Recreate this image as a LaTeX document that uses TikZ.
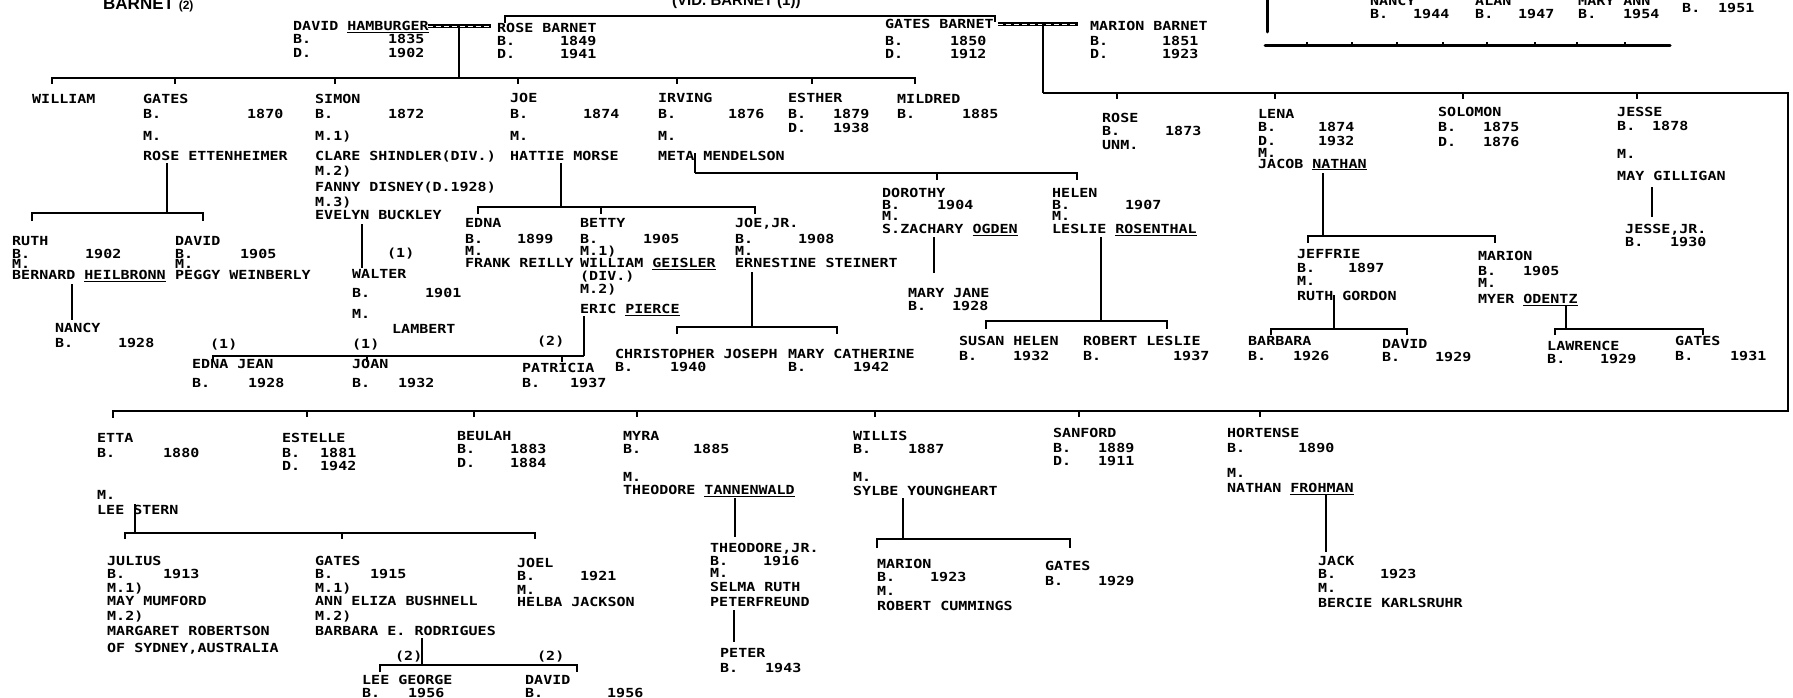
\documentclass[tikz,border=0pt]{standalone}
\usepackage{fontspec}
\usepackage{tikz}
\newfontfamily\chartfont{DejaVu Sans Mono}[FakeStretch=1.2]
\newfontfamily\titlefont{Liberation Sans}
\newcommand{\yrline}[3]{\makebox[#1pt][l]{#2}#3}

\begin{document}
\begin{tikzpicture}[x=1pt, y=-1pt,
      pers/.style={anchor=north west, inner sep=0pt, align=left, yshift=9.1pt,
                   font=\chartfont\bfseries\fontsize{12.5}{13.5}\selectfont},
      lbl/.style={pers},
      titletext/.style={anchor=base west, inner sep=0pt,
                   font=\titlefont\bfseries\fontsize{17}{20}\selectfont},
      wed/.style={line width=3.2pt},
      wedgap/.style={white, line width=0.8pt, dash pattern=on 5pt off 3pt},
      kin/.style={line width=1.6pt},
      drop/.style={line width=2pt}
    ]
    \useasboundingbox (0,0) rectangle (1793,698);
    \fill[white] (0,0) rectangle (1793,698);

    % Headings
    \node[titletext] (barnet2) at (103,10) {BARNET {\fontsize{12}{14}\selectfont(2)}};
    \node[titletext, font=\titlefont\bfseries\fontsize{15}{18}\selectfont] (vidbarnet) at (672,6)
          {(VID. BARNET (1))};

    % First generation
    \node[pers] (hamburger) at (293,30)
          {DAVID \underline{HAMBURGER}\\\yrline{95}{B.}{1835}\\\yrline{95}{D.}{1902}};
    \node[pers] (roseb) at (497,32)
          {ROSE BARNET\\\yrline{63}{B.}{1849}\\[-0.5pt]\yrline{63}{D.}{1941}};
    \node[pers] (gatesb) at (885,28)
          {GATES BARNET\\[3.5pt]\yrline{65}{B.}{1850}\\\yrline{65}{D.}{1912}};
    \node[pers] (marionb) at (1090,30)
          {MARION BARNET\\[1.5pt]\yrline{72}{B.}{1851}\\\yrline{72}{D.}{1923}};

    % Hamburger children
    \node[pers] (william) at (32,103) {WILLIAM};
    \node[pers] (gates) at (143,103)
          {GATES\\[1.5pt]\yrline{104}{B.}{1870}\\[8.5pt]M.\\[6.5pt]ROSE ETTENHEIMER};
    \node[pers] (simon) at (315,103)
          {SIMON\\[1.5pt]\yrline{73}{B.}{1872}\\[8.5pt]M.1)\\[6.5pt]CLARE SHINDLER(DIV.)\\[1.5pt]M.2)\\[2.5pt]FANNY DISNEY(D.1928)\\[1.5pt]M.3)\\EVELYN BUCKLEY};
    \node[pers] (joe) at (510,102)
          {JOE\\[2.5pt]\yrline{73}{B.}{1874}\\[8.5pt]M.\\[6.5pt]HATTIE MORSE};
    \node[pers] (irving) at (658,102)
          {IRVING\\[2.5pt]\yrline{70}{B.}{1876}\\[8.5pt]M.\\[6.5pt]META MENDELSON};
    \node[pers] (esther) at (788,102)
          {ESTHER\\[2.5pt]\yrline{45}{B.}{1879}\\[0.5pt]\yrline{45}{D.}{1938}};
    \node[pers] (mildred) at (897,103) {MILDRED\\[1.5pt]\yrline{65}{B.}{1885}};

    % Barnet children
    \node[pers] (rose) at (1102,122) {ROSE\\\yrline{63}{B.}{1873}\\UNM.};
    \node[pers] (lena) at (1258,118)
          {LENA\\\yrline{60}{B.}{1874}\\\yrline{60}{D.}{1932}\\[-1.5pt]M.\\[-2.5pt]JACOB \underline{NATHAN}};
    \node[pers] (solomon) at (1438,116)
          {SOLOMON\\[1.5pt]\yrline{45}{B.}{1875}\\[1.5pt]\yrline{45}{D.}{1876}};
    \node[pers] (jesse) at (1617,116)
          {JESSE\\[0.5pt]\yrline{35}{B.}{1878}\\[14.5pt]M.\\[8.5pt]MAY GILLIGAN};
    \node[pers] (jessejr) at (1625,233) {JESSE,JR.\\\yrline{45}{B.}{1930}};
    \node[pers] (etta) at (97,442)
          {ETTA\\[1.5pt]\yrline{66}{B.}{1880}\\[28.5pt]M.\\[1.5pt]LEE STERN};
    \node[pers] (estelle) at (282,442)
          {ESTELLE\\[1.5pt]\yrline{38}{B.}{1881}\\\yrline{38}{D.}{1942}};
    \node[pers] (beulah) at (457,440)
          {BEULAH\\\yrline{53}{B.}{1883}\\\yrline{53}{D.}{1884}};
    \node[pers] (myra) at (623,440)
          {MYRA\\\yrline{70}{B.}{1885}\\[14.5pt]M.\\[-0.5pt]THEODORE \underline{TANNENWALD}};
    \node[pers] (willis) at (853,440)
          {WILLIS\\\yrline{55}{B.}{1887}\\[14.5pt]M.\\SYLBE YOUNGHEART};
    \node[pers] (sanford) at (1053,437)
          {SANFORD\\[1.5pt]\yrline{45}{B.}{1889}\\\yrline{45}{D.}{1911}};
    \node[pers] (hortense) at (1227,437)
          {HORTENSE\\[1.5pt]\yrline{71}{B.}{1890}\\[11.5pt]M.\\[1.5pt]NATHAN \underline{FROHMAN}};

    % Grandchildren
    \node[pers] (ruth) at (12,245)
          {RUTH\\\yrline{73}{B.}{1902}\\[-3.5pt]M.\\[-2.5pt]BERNARD \underline{HEILBRONN}};
    \node[pers] (davidg) at (175,245)
          {DAVID\\\yrline{65}{B.}{1905}\\[-3.5pt]M.\\[-2.5pt]PEGGY WEINBERLY};
    \node[pers] (nancy) at (55,332) {NANCY\\[1.5pt]\yrline{63}{B.}{1928}};
    \node[pers] (walter) at (352,278)
          {WALTER\\[5.5pt]\yrline{73}{B.}{1901}\\[7.5pt]M.\\[1.5pt]\hspace*{40pt}LAMBERT};
    \node[pers] (edna) at (465,227)
          {EDNA\\[2.5pt]\yrline{52}{B.}{1899}\\[-1.5pt]M.\\[-1.5pt]FRANK REILLY};
    \node[pers] (betty) at (580,227)
          {BETTY\\[2.5pt]\yrline{63}{B.}{1905}\\[-1.5pt]M.1)\\[-1.5pt]WILLIAM \underline{GEISLER}\\[-0.5pt](DIV.)\\[-0.5pt]M.2)\\[6.5pt]ERIC \underline{PIERCE}};
    \node[pers] (joejr) at (735,227)
          {JOE,JR.\\[2.5pt]\yrline{63}{B.}{1908}\\[-1.5pt]M.\\[-1.5pt]ERNESTINE STEINERT};
    \node[pers] (dorothy) at (882,197)
          {DOROTHY\\[-1.5pt]\yrline{55}{B.}{1904}\\[-2.5pt]M.\\[-0.5pt]S.ZACHARY \underline{OGDEN}};
    \node[pers] (helen) at (1052,197)
          {HELEN\\[-1.5pt]\yrline{73}{B.}{1907}\\[-2.5pt]M.\\[-0.5pt]LESLIE \underline{ROSENTHAL}};
    \node[pers] (maryjane) at (908,297) {MARY JANE\\\yrline{44}{B.}{1928}};
    \node[pers] (jeffrie) at (1297,258)
          {JEFFRIE\\[0.5pt]\yrline{51}{B.}{1897}\\[-0.5pt]M.\\[1.5pt]RUTH GORDON};
    \node[pers] (marionl) at (1478,260)
          {MARION\\[1.5pt]\yrline{45}{B.}{1905}\\[-1.5pt]M.\\[2.5pt]MYER \underline{ODENTZ}};
    \node[pers] (julius) at (107,565)
          {JULIUS\\\yrline{56}{B.}{1913}\\M.1)\\MAY MUMFORD\\[1.5pt]M.2)\\[1.5pt]MARGARET ROBERTSON\\[3.5pt]OF SYDNEY,AUSTRALIA};
    \node[pers] (gatese) at (315,565)
          {GATES\\\yrline{55}{B.}{1915}\\M.1)\\ANN ELIZA BUSHNELL\\[1.5pt]M.2)\\[1.5pt]BARBARA E. RODRIGUES};
    \node[pers] (joel) at (517,567)
          {JOEL\\\yrline{63}{B.}{1921}\\M.\\[-1.5pt]HELBA JACKSON};
    \node[pers] (theojr) at (710,552)
          {THEODORE,JR.\\[-0.5pt]\yrline{53}{B.}{1916}\\[-1.5pt]M.\\[0.5pt]SELMA RUTH\\[1.5pt]PETERFREUND};
    \node[pers] (marionw) at (877,568)
          {MARION\\\yrline{53}{B.}{1923}\\M.\\[1.5pt]ROBERT CUMMINGS};
    \node[pers] (gatesw) at (1045,570) {GATES\\[1.5pt]\yrline{53}{B.}{1929}};
    \node[pers] (jack) at (1318,565)
          {JACK\\\yrline{62}{B.}{1923}\\M.\\[1.5pt]BERCIE KARLSRUHR};

    % Great-grandchildren
    \node[pers] (ednajean) at (192,368) {EDNA JEAN\\[5.5pt]\yrline{56}{B.}{1928}};
    \node[pers] (joan) at (352,368) {JOAN\\[5.5pt]\yrline{46}{B.}{1932}};
    \node[pers] (patricia) at (522,372) {PATRICIA\\[1.5pt]\yrline{48}{B.}{1937}};
    \node[pers] (christopher) at (615,358) {CHRISTOPHER JOSEPH\\\yrline{55}{B.}{1940}};
    \node[pers] (marycath) at (788,358) {MARY CATHERINE\\\yrline{65}{B.}{1942}};
    \node[pers] (susan) at (959,345) {SUSAN HELEN\\[1.5pt]\yrline{54}{B.}{1932}};
    \node[pers] (robert) at (1083,345) {ROBERT LESLIE\\[1.5pt]\yrline{90}{B.}{1937}};
    \node[pers] (barbara) at (1248,345) {BARBARA\\[1.5pt]\yrline{45}{B.}{1926}};
    \node[pers] (davidj) at (1382,348) {DAVID\\\yrline{53}{B.}{1929}};
    \node[pers] (lawrence) at (1547,350) {LAWRENCE\\\yrline{53}{B.}{1929}};
    \node[pers] (gatesl) at (1675,345) {GATES\\[1.5pt]\yrline{55}{B.}{1931}};
    \node[pers] (peter) at (720,657) {PETER\\[1.5pt]\yrline{45}{B.}{1943}};
    \node[pers] (leegeorge) at (362,684) {LEE GEORGE\\\yrline{46}{B.}{1956}};
    \node[pers] (davide) at (525,684) {DAVID\\\yrline{82}{B.}{1956}};

    % Top right (cut off)
    \node[pers] (nancyt) at (1370,5) {NANCY\\\yrline{43}{B.}{1944}};
    \node[pers] (alan) at (1475,5) {ALAN\\\yrline{43}{B.}{1947}};
    \node[pers] (maryann) at (1578,5) {MARY ANN\\\yrline{45}{B.}{1954}};
    \node[pers] (b1951) at (1682,12) {\yrline{36}{B.}{1951}};

    % Marriage numbers
    \node[lbl] (m1walter) at (387,257) {(1)};
    \node[lbl] (m1edna) at (210,348) {(1)};
    \node[lbl] (m1joan) at (352,348) {(1)};
    \node[lbl] (m2pat) at (537,345) {(2)};
    \node[lbl] (m2lee) at (395,660) {(2)};
    \node[lbl] (m2david) at (537,660) {(2)};

    % Marriage lines
    \coordinate (hw) at (428,26);   \coordinate (rw) at (491,26);
    \coordinate (hdrop) at (459,26);
    \coordinate (gw) at (998,24);   \coordinate (mw) at (1078,24);
    \coordinate (gdrop) at (1043,24);
    \draw[wed] (hw) -- (rw);  \draw[wedgap] (hw) -- (rw);
    \draw[wed] (gw) -- (mw);  \draw[wedgap] (gw) -- (mw);

    % Barnet (1) bracket
    \coordinate (vbL) at (505,16);  \coordinate (vbR) at (995,16);
    \draw[kin] (vbL) ++(0,7) -- (vbL) -- (vbR) -- ++(0,6);

    % Hamburger children bar
    \coordinate (hbL) at (52,78);   \coordinate (hbR) at (915,78);
    \draw[drop] (hdrop) -- (hdrop |- hbL);
    \draw[kin] (hbL) ++(0,6) -- (hbL) -- (hbR) -- ++(0,6);
    \foreach \x in {175,335,518,677,812}
      \draw[kin] (\x,78) -- ++(0,6);

    % Barnet children bar (runs round to the lower row)
    \coordinate (bbL) at (1043,93); \coordinate (bbR) at (1788,93);
    \coordinate (bcR) at (1788,411); \coordinate (bcL) at (113,411);
    \draw[drop] (gdrop) -- (bbL);
    \draw[kin] (bbL) -- (bbR) -- (bcR) -- (bcL) -- ++(0,7);
    \foreach \x in {1117,1275,1463,1637}
      \draw[kin] (\x,93) -- ++(0,6);
    \foreach \x in {307,474,637,875,1079,1260}
      \draw[kin] (\x,411) -- ++(0,6);

    % Families
    \coordinate (ge) at (167,163); \coordinate (geL) at (32,213); \coordinate (geR) at (203,213);
    \draw[drop] (ge) -- (ge |- geL);
    \draw[kin] (geL) ++(0,8) -- (geL) -- (geR) -- ++(0,8);

    \coordinate (rb) at (72,284);  \coordinate (rbe) at (72,320);
    \draw[drop] (rb) -- (rbe);

    \coordinate (se) at (362,224); \coordinate (see) at (362,268);
    \draw[drop] (se) -- (see);

    \coordinate (jh) at (561,163); \coordinate (jhL) at (478,207); \coordinate (jhR) at (755,207);
    \draw[drop] (jh) -- (jh |- jhL);
    \draw[kin] (jhL) ++(0,7) -- (jhL) -- (jhR) -- ++(0,7);
    \draw[kin] (601,207) -- ++(0,7);

    \coordinate (im) at (695,153); \coordinate (imc) at (695,173); \coordinate (imR) at (1077,173);
    \draw[drop] (im) -- (imc);
    \draw[kin] (imc) -- (imR) -- ++(0,7);
    \draw[kin] (937,173) -- ++(0,7);

    \coordinate (be) at (584,316); \coordinate (beL) at (213,356); \coordinate (beR) at (584,356);
    \draw[drop] (be) -- (beR);
    \draw[kin] (beL) ++(0,6) -- (beL) -- (beR);
    \foreach \x in {367,562}
      \draw[kin] (\x,356) -- ++(0,6);

    \coordinate (je) at (752,272); \coordinate (jeL) at (677,327); \coordinate (jeR) at (837,327);
    \draw[drop] (je) -- (je |- jeL);
    \draw[kin] (jeL) ++(0,7) -- (jeL) -- (jeR) -- ++(0,7);

    \coordinate (dz) at (934,237); \coordinate (dze) at (934,273);
    \draw[drop] (dz) -- (dze);

    \coordinate (hl) at (1101,237); \coordinate (hlL) at (986,321); \coordinate (hlR) at (1167,321);
    \draw[drop] (hl) -- (hl |- hlL);
    \draw[kin] (hlL) ++(0,8) -- (hlL) -- (hlR) -- ++(0,8);

    \coordinate (lj) at (1323,173); \coordinate (ljL) at (1308,236); \coordinate (ljR) at (1495,236);
    \draw[drop] (lj) -- (lj |- ljL);
    \draw[kin] (ljL) ++(0,7) -- (ljL) -- (ljR) -- ++(0,7);

    \coordinate (jr) at (1334,295); \coordinate (jrL) at (1271,329); \coordinate (jrR) at (1407,329);
    \draw[drop] (jr) -- (jr |- jrL);
    \draw[kin] (jrL) ++(0,6) -- (jrL) -- (jrR) -- ++(0,6);

    \coordinate (mo) at (1566,306); \coordinate (moL) at (1555,329); \coordinate (moR) at (1703,329);
    \draw[drop] (mo) -- (mo |- moL);
    \draw[kin] (moL) ++(0,6) -- (moL) -- (moR) -- ++(0,6);

    \coordinate (jm) at (1652,187); \coordinate (jme) at (1652,217);
    \draw[drop] (jm) -- (jme);

    \coordinate (el) at (135,504); \coordinate (elL) at (125,533); \coordinate (elR) at (535,533);
    \draw[drop] (el) -- (el |- elL);
    \draw[kin] (elL) ++(0,6) -- (elL) -- (elR) -- ++(0,6);
    \draw[kin] (342,533) -- ++(0,6);

    \coordinate (gr) at (422,638); \coordinate (grL) at (380,665); \coordinate (grR) at (577,665);
    \draw[drop] (gr) -- (gr |- grL);
    \draw[kin] (grL) ++(0,7) -- (grL) -- (grR) -- ++(0,7);

    \coordinate (mt) at (735,498); \coordinate (mte) at (735,537);
    \draw[drop] (mt) -- (mte);

    \coordinate (tp) at (734,610); \coordinate (tpe) at (734,642);
    \draw[drop] (tp) -- (tpe);

    \coordinate (wy) at (903,498); \coordinate (wyL) at (877,539); \coordinate (wyR) at (1070,539);
    \draw[drop] (wy) -- (wy |- wyL);
    \draw[kin] (wyL) ++(0,9) -- (wyL) -- (wyR) -- ++(0,9);

    \coordinate (hf) at (1326,495); \coordinate (hfe) at (1326,552);
    \draw[drop] (hf) -- (hfe);

    % Top right bar
    \coordinate (trv) at (1267,0); \coordinate (trve) at (1267,32);
    \coordinate (trL) at (1265,46); \coordinate (trR) at (1670,46);
    \draw[line width=3pt, line cap=round] (trv) -- (trve);
    \draw[line width=3pt, line cap=round] (trL) -- (trR);
    \foreach \x in {1307,1352,1397,1443,1487,1535,1577,1625}
      \draw[kin] (\x,46) -- ++(0,-4);
  \end{tikzpicture}
\end{document}
